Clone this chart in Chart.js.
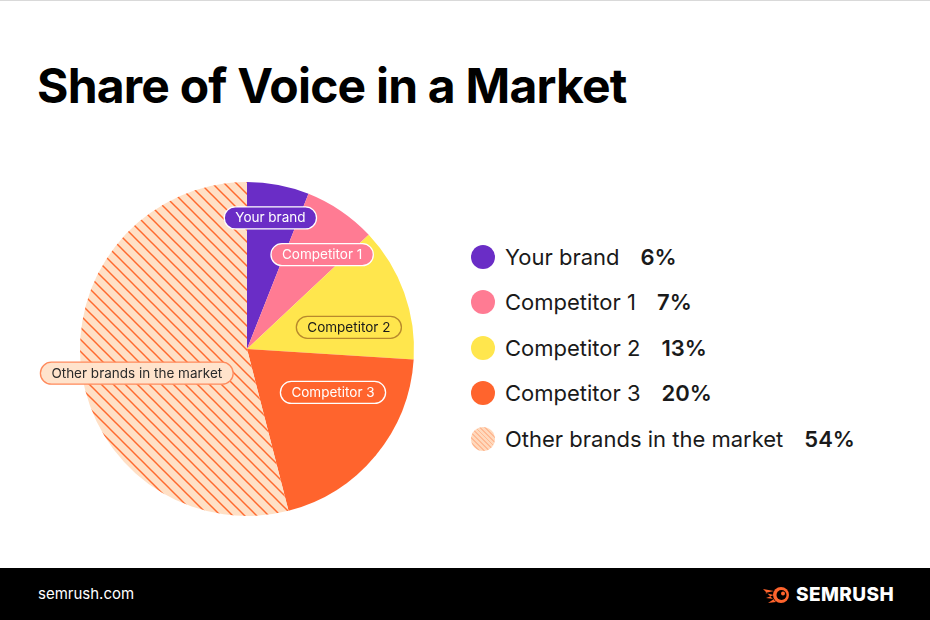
<!DOCTYPE html>
<html>
<head>
<meta charset="utf-8">
<script src="https://cdn.jsdelivr.net/npm/chart.js@4.4.0/dist/chart.umd.min.js"></script>
<style>
  html, body { margin: 0; padding: 0; }
  body { width: 930px; height: 620px; position: relative; background: #fff; font-family: "Inter", "Lato", sans-serif; overflow: hidden; border-top: 1px solid #d9d9d9; box-sizing: border-box; }
  #titulo { position: absolute; left: 37px; top: 57px; font-size: 48px; font-weight: 700; letter-spacing: -0.8px; color: #000; margin: 0; line-height: 56px; }
  #zonaPie { position: absolute; left: 20px; top: 170px; width: 420px; height: 360px; }
  #leyenda { position: absolute; left: 471px; top: 233px; }
  .fila { height: 45.5px; display: flex; align-items: center; font-size: 22px; color: #1a1a1a; }
  .punto { width: 24px; height: 24px; border-radius: 50%; margin-right: 10px; flex: none; }
  .pct { font-weight: 600; margin-left: 21px; }
  #pie { position: absolute; left: 0; top: 567px; width: 930px; height: 53px; background: #000; }
  #web { position: absolute; left: 38px; top: 16px; color: #fff; font-size: 15px; }
  #logo { position: absolute; left: 762px; top: 15px; display: flex; align-items: center; color: #fff; font-weight: 800; font-size: 19px; letter-spacing: 0.4px; }
</style>
</head>
<body>
<h1 id="titulo">Share of Voice in a Market</h1>
<div id="zonaPie"><canvas id="grafica" width="420" height="360"></canvas></div>
<div id="leyenda"></div>
<div id="pie">
  <div id="web">semrush.com</div>
  <div id="logo">
    <svg width="30" height="22" viewBox="0 0 30 22">
      <path d="M1 5 L12 7 L3 9 L12 11 L4 14 L12 15 L6 19 L14 18 Z" fill="#ff642d"/>
      <circle cx="19" cy="11" r="8" fill="#ff642d"/>
      <circle cx="19.5" cy="11" r="5" fill="#000"/>
      <circle cx="21" cy="9.5" r="2" fill="#ff642d"/>
    </svg>
    <span style="margin-left:4px">SEMRUSH</span>
  </div>
</div>

<script>
// datos de la grafica
const marcas = ['Your brand', 'Competitor 1', 'Competitor 2', 'Competitor 3', 'Other brands in the market']
const porcentajes = [6, 7, 13, 20, 54]

const colores = ['#6a2dc6', '#ff7b93', '#ffe64d', '#ff642d']
const colorFondoOtros = '#ffe0c6'
const colorRayas = '#ff6a2f'

// patron de rayas para "otros"
function crearRayas() {
    const s = 12
    const c = document.createElement('canvas')
    c.width = s
    c.height = s
    const g = c.getContext('2d')
    g.fillStyle = colorFondoOtros
    g.fillRect(0, 0, s, s)
    g.strokeStyle = colorRayas
    g.lineWidth = 1.5
    for (const k of [-s, 0, s]) {
        g.beginPath()
        g.moveTo(k - 1, -1)
        g.lineTo(k + s + 1, s + 1)
        g.stroke()
    }
    return document.getElementById('grafica').getContext('2d').createPattern(c, 'repeat')
}

// etiquetas tipo pastilla sobre cada porcion (posicion relativa al radio)
const estiloPastillas = [
    { dx: 0.14, dy: -0.785, fondo: '#6a2dc6', borde: '#ffffff', texto: '#ffffff' },
    { dx: 0.45, dy: -0.565, fondo: '#ff7b93', borde: '#ffffff', texto: '#ffffff' },
    { dx: 0.61, dy: -0.13, fondo: '#ffe64d', borde: '#b8892c', texto: '#1a1a1a' },
    { dx: 0.515, dy: 0.26, fondo: '#ff642d', borde: '#ffffff', texto: '#ffffff' },
    { dx: -0.66, dy: 0.145, fondo: '#ffe3cc', borde: '#ff8a5c', texto: '#2a2a2a' }
]

const pastillasPlugin = {
    id: 'pastillas',
    afterDatasetsDraw(chart) {
        const ctx = chart.ctx
        const arcos = chart.getDatasetMeta(0).data
        ctx.save()
        ctx.font = '13.5px Inter, Lato, sans-serif'
        ctx.textAlign = 'center'
        ctx.textBaseline = 'middle'
        arcos.forEach((arco, i) => {
            const e = estiloPastillas[i]
            const cx = arco.x + e.dx * arco.outerRadius
            const cy = arco.y + e.dy * arco.outerRadius
            const texto = chart.data.labels[i]
            const w = ctx.measureText(texto).width + 22
            const h = 22
            ctx.beginPath()
            ctx.roundRect(cx - w / 2, cy - h / 2, w, h, h / 2)
            ctx.fillStyle = e.fondo
            ctx.fill()
            ctx.lineWidth = 1.3
            ctx.strokeStyle = e.borde
            ctx.stroke()
            ctx.fillStyle = e.texto
            ctx.fillText(texto, cx, cy + 0.5)
        })
        ctx.restore()
    }
}

const rayas = crearRayas()

new Chart(document.getElementById('grafica'), {
    type: 'pie',
    data: {
        labels: marcas,
        datasets: [{
            data: porcentajes,
            backgroundColor: [...colores, rayas],
            borderWidth: 0
        }]
    },
    options: {
        responsive: false,
        animation: false,
        layout: { padding: { left: 60, top: 11, right: 26, bottom: 15 } },
        plugins: {
            legend: { display: false },
            tooltip: { enabled: false }
        }
    },
    plugins: [pastillasPlugin]
})

// leyenda en html
const leyenda = document.getElementById('leyenda')
marcas.forEach((m, i) => {
    const fila = document.createElement('div')
    fila.className = 'fila'
    const punto = document.createElement('span')
    punto.className = 'punto'
    if (i < colores.length) {
        punto.style.background = colores[i]
    } else {
        punto.style.background = 'repeating-linear-gradient(45deg, #ffd9bd 0 2.2px, #ffb993 2.2px 3.4px)'
    }
    const txt = document.createElement('span')
    txt.textContent = m
    const pct = document.createElement('span')
    pct.className = 'pct'
    pct.textContent = porcentajes[i] + '%'
    fila.append(punto, txt, pct)
    leyenda.appendChild(fila)
})
</script>
</body>
</html>
